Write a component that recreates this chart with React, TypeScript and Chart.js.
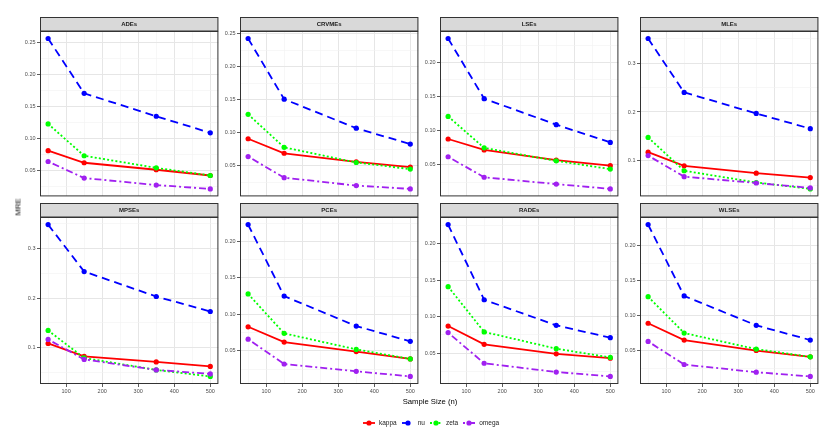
import React, { useEffect, useRef } from 'react';
import { Chart, registerables } from 'chart.js';

Chart.register(...registerables);

// ---------- data ----------
const sampleSizes = [50, 150, 350, 500];
const xTickLabels = [100, 200, 300, 400, 500];
const estimators = ['ADEs', 'CRVMEs', 'LSEs', 'MLEs', 'MPSEs', 'PCEs', 'RADEs', 'WLSEs'];
const seriesNames = ['kappa', 'nu', 'zeta', 'omega'];

// MRE per estimator (order of `estimators`), values at n = 50, 150, 350, 500
const kappaMRE = [
  [0.081, 0.062, 0.051, 0.042], // ADEs
  [0.091, 0.069, 0.056, 0.048], // CRVMEs
  [0.088, 0.072, 0.057, 0.049], // LSEs
  [0.118, 0.090, 0.075, 0.066], // MLEs
  [0.109, 0.083, 0.072, 0.063], // MPSEs
  [0.083, 0.062, 0.049, 0.039], // PCEs
  [0.087, 0.062, 0.049, 0.043], // RADEs
  [0.089, 0.065, 0.050, 0.041], // WLSEs
];
const nuMRE = [
  [0.257, 0.171, 0.135, 0.109],
  [0.243, 0.151, 0.107, 0.083],
  [0.235, 0.147, 0.109, 0.083],
  [0.350, 0.240, 0.197, 0.166],
  [0.347, 0.253, 0.203, 0.173],
  [0.223, 0.125, 0.084, 0.063],
  [0.226, 0.123, 0.088, 0.071],
  [0.230, 0.128, 0.086, 0.065],
];
const zetaMRE = [
  [0.123, 0.073, 0.054, 0.042],
  [0.128, 0.078, 0.055, 0.045],
  [0.121, 0.075, 0.056, 0.044],
  [0.148, 0.080, 0.056, 0.043],
  [0.135, 0.080, 0.056, 0.043],
  [0.128, 0.074, 0.052, 0.039],
  [0.141, 0.079, 0.056, 0.044],
  [0.127, 0.075, 0.052, 0.041],
];
const omegaMRE = [
  [0.064, 0.038, 0.027, 0.021],
  [0.064, 0.032, 0.020, 0.015],
  [0.062, 0.032, 0.022, 0.015],
  [0.111, 0.068, 0.055, 0.045],
  [0.117, 0.077, 0.056, 0.048],
  [0.066, 0.032, 0.022, 0.015],
  [0.078, 0.036, 0.024, 0.018],
  [0.063, 0.030, 0.019, 0.013],
];
// major y-tick step per panel
const yMajorSteps = [0.05, 0.05, 0.05, 0.1, 0.1, 0.05, 0.05, 0.05];

// ---------- styles ----------
const seriesValues = [kappaMRE, nuMRE, zetaMRE, omegaMRE];
const seriesColors = ['#FF0000', '#0000FF', '#00FF00', '#A020F0'];
const seriesDashes: number[][] = [[], [8, 5], [2, 2.2], [2, 3, 7, 3]];
const FONT = '"Liberation Sans", Arial, Helvetica, sans-serif';
const LINE_W = 1.8;

function Panel({ idx }: { idx: number }) {
  const ref = useRef<HTMLCanvasElement | null>(null);
  const col = idx % 4;
  const row = Math.floor(idx / 4);
  const plotLeft = 40 + 200 * col;
  const plotW = 180;
  const stripTop = row ? 203 : 17;
  const stripH = 14;
  const plotH = 167;
  const axisW = 40;
  const bottomExtra = row ? 14 : 1;
  const cw = axisW + plotW + 1;
  const ch = stripH + plotH + bottomExtra;

  useEffect(() => {
    const canvas = ref.current;
    if (!canvas) return;
    const all = seriesValues.flatMap((s) => s[idx]);
    const dmin = Math.min(...all);
    const dmax = Math.max(...all);
    const ypad = (dmax - dmin) * 0.05;
    const xmin = Math.min(...sampleSizes);
    const xmax = Math.max(...sampleSizes);
    const xpad = (xmax - xmin) * 0.05;
    const major = yMajorSteps[idx];
    const isMajorY = (v: number) => Math.abs(v / major - Math.round(v / major)) < 1e-6;
    const isMajorX = (v: number) => xTickLabels.some((t) => Math.abs(t - v) < 1e-6);
    const decimals = major < 0.1 ? 2 : 1;

    const facetPlugin = {
      id: 'facet',
      beforeDraw(c: any) {
        const { ctx, chartArea: a } = c;
        ctx.save();
        ctx.fillStyle = '#FFFFFF';
        ctx.fillRect(a.left, a.top, a.right - a.left, a.bottom - a.top);
        ctx.restore();
      },
      afterDraw(c: any) {
        const { ctx, chartArea: a } = c;
        ctx.save();
        // strip
        ctx.fillStyle = '#D9D9D9';
        ctx.fillRect(a.left, 0.5, a.right - a.left, a.top - 0.5);
        ctx.strokeStyle = '#333333';
        ctx.lineWidth = 1;
        ctx.strokeRect(a.left + 0.5, 0.5, a.right - a.left - 1, a.top - 0.5);
        ctx.fillStyle = '#1A1A1A';
        ctx.font = `bold 6px ${FONT}`;
        ctx.textAlign = 'center';
        ctx.textBaseline = 'middle';
        ctx.fillText(estimators[idx], (a.left + a.right) / 2, a.top / 2 + 0.5);
        // panel border
        ctx.strokeRect(a.left + 0.5, a.top + 0.5, a.right - a.left - 1, a.bottom - a.top - 1);
        ctx.restore();
      },
    };

    const chart = new Chart(canvas, {
      type: 'line',
      data: {
        datasets: seriesNames.map((name, s) => ({
          label: name,
          data: sampleSizes.map((x, k) => ({ x, y: seriesValues[s][idx][k] })),
          borderColor: seriesColors[s],
          backgroundColor: seriesColors[s],
          borderWidth: LINE_W,
          borderDash: seriesDashes[s],
          pointRadius: 2.6,
          pointBorderWidth: 0,
          pointHoverRadius: 2.6,
          tension: 0,
          fill: false,
          order: seriesNames.length - 1 - s,
        })),
      },
      options: {
        responsive: false,
        maintainAspectRatio: false,
        animation: false,
        events: [],
        layout: { padding: { left: 0, right: 1, top: stripH, bottom: row ? 0 : 1 } },
        plugins: {
          legend: { display: false },
          tooltip: { enabled: false },
          title: { display: false },
        },
        scales: {
          x: {
            type: 'linear',
            min: xmin - xpad,
            max: xmax + xpad,
            border: { display: false },
            grid: {
              color: (c: any) => (c.tick && isMajorX(c.tick.value) ? '#E6E6E6' : '#F2F2F2'),
              lineWidth: (c: any) => (c.tick && isMajorX(c.tick.value) ? 1 : 0.6),
              drawTicks: row === 1,
              tickLength: 3,
              tickWidth: 0.8,
              tickColor: (c: any) => (c.tick && isMajorX(c.tick.value) ? '#333333' : 'rgba(0,0,0,0)'),
            },
            ticks: {
              display: row === 1,
              stepSize: 50,
              maxTicksLimit: 1000,
              autoSkip: false,
              includeBounds: false,
              maxRotation: 0,
              minRotation: 0,
              padding: 1.5,
              color: '#4D4D4D',
              font: { family: FONT, size: 5.5 },
              callback: (v: any) => (isMajorX(Number(v)) ? String(v) : ''),
            },
            afterFit: (s: any) => {
              s.height = row ? 14 : 0;
              s.paddingLeft = 0;
              s.paddingRight = 0;
            },
          },
          y: {
            type: 'linear',
            position: 'left',
            min: dmin - ypad,
            max: dmax + ypad,
            border: { display: false },
            grid: {
              color: (c: any) => (c.tick && isMajorY(c.tick.value) ? '#E6E6E6' : '#F2F2F2'),
              lineWidth: (c: any) => (c.tick && isMajorY(c.tick.value) ? 1 : 0.6),
              drawTicks: true,
              tickLength: 3,
              tickWidth: 0.8,
              tickColor: (c: any) => (c.tick && isMajorY(c.tick.value) ? '#333333' : 'rgba(0,0,0,0)'),
            },
            ticks: {
              stepSize: major / 2,
              maxTicksLimit: 1000,
              autoSkip: false,
              includeBounds: false,
              padding: 1.5,
              color: '#4D4D4D',
              font: { family: FONT, size: 5.5 },
              callback: (v: any) => (isMajorY(Number(v)) ? Number(v).toFixed(decimals) : ''),
            },
            afterFit: (s: any) => {
              s.width = axisW;
              s.paddingTop = 0;
              s.paddingBottom = 0;
            },
          },
        },
      },
      plugins: [facetPlugin],
    } as any);
    return () => chart.destroy();
  }, [idx]);

  return (
    <canvas
      ref={ref}
      width={cw}
      height={ch}
      style={{ position: 'absolute', left: plotLeft - axisW, top: stripTop, width: cw, height: ch }}
    />
  );
}

function LegendKey({ s }: { s: number }) {
  return (
    <svg width={12} height={8} style={{ display: 'block' }}>
      <line
        x1={0}
        y1={4}
        x2={12}
        y2={4}
        stroke={seriesColors[s]}
        strokeWidth={LINE_W}
        strokeDasharray={seriesDashes[s].length ? seriesDashes[s].join(' ') : undefined}
      />
      <circle cx={6} cy={4} r={2.6} fill={seriesColors[s]} />
    </svg>
  );
}

export default function App() {
  return (
    <div
      style={{
        position: 'fixed',
        left: 0,
        top: 0,
        width: 837,
        height: 434,
        background: '#FFFFFF',
        overflow: 'hidden',
        fontFamily: FONT,
      }}
    >
      {estimators.map((_, i) => (
        <Panel key={i} idx={i} />
      ))}
      <div
        style={{
          position: 'absolute',
          left: 430,
          top: 401,
          transform: 'translate(-50%, -50%)',
          fontSize: '7.7px',
          color: '#000000',
          whiteSpace: 'nowrap',
        }}
      >
        Sample Size (n)
      </div>
      <div
        style={{
          position: 'absolute',
          left: 18,
          top: 207,
          transform: 'translate(-50%, -50%) rotate(-90deg)',
          fontSize: '7.7px',
          color: '#000000',
          whiteSpace: 'nowrap',
        }}
      >
        MRE
      </div>
      <div
        style={{
          position: 'absolute',
          left: 363,
          top: 419,
          height: 8,
          display: 'flex',
          alignItems: 'center',
          fontSize: '6.5px',
          color: '#1A1A1A',
          whiteSpace: 'nowrap',
        }}
      >
        {seriesNames.map((name, s) => (
          <div key={name} style={{ display: 'flex', alignItems: 'center', marginRight: 5 }}>
            <LegendKey s={s} />
            <span style={{ marginLeft: 4, lineHeight: '8px' }}>{name}</span>
          </div>
        ))}
      </div>
    </div>
  );
}
